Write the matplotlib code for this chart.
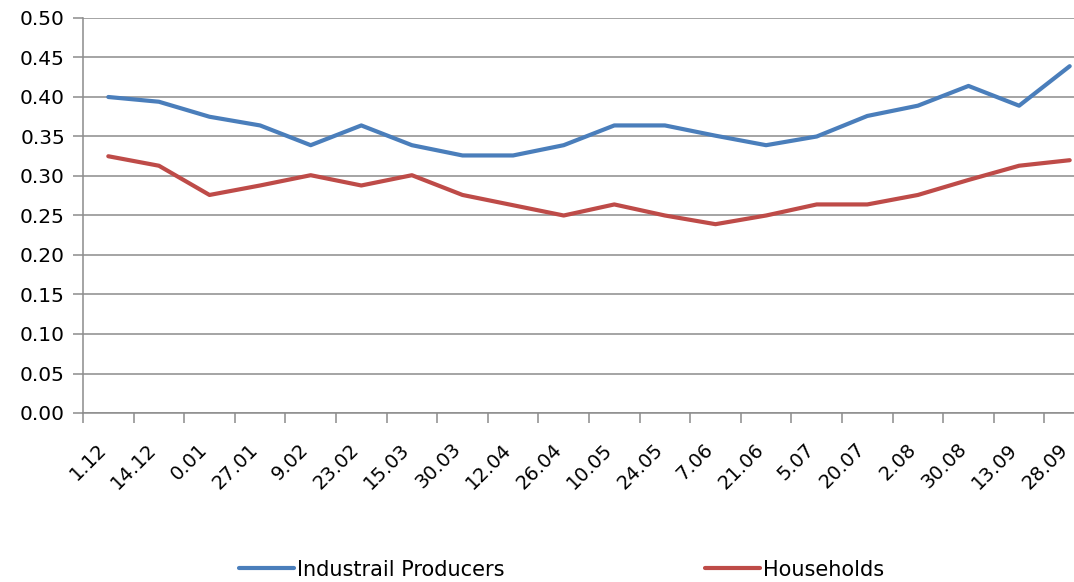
import matplotlib
matplotlib.use("Agg")
import matplotlib.pyplot as plt
from matplotlib.ticker import FixedLocator, MultipleLocator
from matplotlib.transforms import ScaledTranslation


DATES = ["1.12", "14.12", "0.01", "27.01", "9.02", "23.02", "15.03", "30.03",
         "12.04", "26.04", "10.05", "24.05", "7.06", "21.06", "5.07", "20.07",
         "2.08", "30.08", "13.09", "28.09"]

INDUSTRIAL = [0.400, 0.394, 0.375, 0.364, 0.339, 0.364, 0.339, 0.326,
              0.326, 0.339, 0.364, 0.364, 0.351, 0.339, 0.350, 0.376,
              0.389, 0.414, 0.389, 0.439]

HOUSEHOLDS = [0.325, 0.313, 0.276, 0.288, 0.301, 0.288, 0.301, 0.276,
              0.263, 0.250, 0.264, 0.250, 0.239, 0.250, 0.264, 0.264,
              0.276, 0.295, 0.313, 0.320]

BLUE = "#4A7EBB"
RED = "#BE4B48"
GRID = "#8C8C8C"

W, H = 1074, 582


def main():
    fig = plt.figure(figsize=(W / 100, H / 100), dpi=100)
    ax = fig.add_axes([83 / W, (H - 413) / H, (1095 - 83) / W, (413 - 18) / H])

    x = list(range(len(DATES)))
    ax.plot(x, INDUSTRIAL, color=BLUE, lw=3, label="Industrail Producers",
            solid_capstyle="round", solid_joinstyle="round")
    ax.plot(x, HOUSEHOLDS, color=RED, lw=3, label="Households",
            solid_capstyle="round", solid_joinstyle="round")

    ax.set_ylim(0, 0.5)
    ax.set_xlim(-0.5, len(DATES) - 0.5)
    ax.yaxis.set_major_locator(MultipleLocator(0.05))
    ax.yaxis.set_major_formatter(plt.FuncFormatter(lambda v, _: f"{v:.2f}"))
    ax.grid(axis="y", color=GRID, lw=1.1)
    ax.set_axisbelow(True)

    # ticks between categories, labels at the centres
    ax.xaxis.set_major_locator(FixedLocator([i - 0.5 for i in range(len(DATES) + 1)]))
    ax.xaxis.set_major_formatter(plt.NullFormatter())
    ax.xaxis.set_minor_locator(FixedLocator(x))
    ax.set_xticklabels(DATES, minor=True, rotation=45, ha="right", va="center",
                       rotation_mode="anchor", fontsize=14)
    ax.tick_params(axis="x", which="minor", length=0, pad=24)
    ax.tick_params(axis="x", which="major", length=7, color=GRID, width=1.1)
    ax.tick_params(axis="y", length=7, color=GRID, width=1.1, labelsize=14.5, pad=6)

    # nudge the slanted labels left so the last one stays inside the figure
    fig.canvas.draw()
    shift = ScaledTranslation(-5 / 100, 0, fig.dpi_scale_trans)
    for tick in ax.xaxis.get_minor_ticks():
        tick.label1.set_transform(tick.label1.get_transform() + shift)

    for side in ("top", "right"):
        ax.spines[side].set_visible(False)
    for side in ("left", "bottom"):
        ax.spines[side].set_color(GRID)
        ax.spines[side].set_linewidth(1.1)

    fig.legend(loc="center", bbox_to_anchor=(0.523, 0.021), ncol=2, frameon=False,
               fontsize=15, handlelength=2.64, handletextpad=0.15, columnspacing=9.6)

    fig.savefig("out.png", dpi=100)
    plt.close(fig)


if __name__ == "__main__":
    main()
